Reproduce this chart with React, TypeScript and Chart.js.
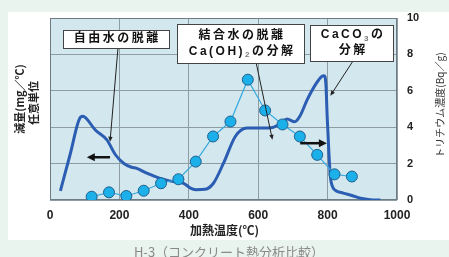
import React, { useEffect, useRef } from 'react';
import { Chart, registerables } from 'chart.js';

Chart.register(...registerables);

const W = 449;
const H = 257;

// X axis ticks (°C)
const xTickValues = [0, 200, 400, 600, 800, 1000];
// Right axis ticks (Bq/g)
const rightTickValues = [0, 2, 4, 6, 8, 10];

// Weight loss curve (arbitrary units, drawn on the 0-10 scale)
const lossTemps = [30, 58, 88, 96, 106, 130, 164, 188, 212, 235, 250, 279, 317, 356, 385, 405, 420, 447, 471, 500, 534, 568, 606, 644, 665, 683, 705, 720, 741, 765, 784, 790, 795, 799, 804, 808, 815, 825, 845, 870, 895, 923, 952];
const lossValues = [0.5, 2.5, 4.55, 4.6, 4.45, 3.86, 3.3, 2.5, 2.02, 1.8, 1.74, 1.47, 1.19, 1.01, 0.92, 0.65, 0.57, 0.59, 0.92, 2.02, 3.49, 3.95, 3.95, 4.0, 4.2, 4.45, 4.3, 4.6, 5.5, 6.34, 6.8, 6.83, 6.4, 4.5, 2.5, 1.3, 0.7, 0.5, 0.38, 0.25, 0.1, 0.02, 0];

// Tritium concentration (Bq/g)
const tritiumTemps = [120, 170, 220, 270, 320, 370, 420, 470, 520, 570, 620, 670, 720, 770, 820, 870];
const tritiumValues = [0.18, 0.42, 0.22, 0.51, 0.92, 1.14, 2.11, 3.49, 4.31, 6.61, 4.92, 4.15, 3.49, 2.48, 1.41, 1.29];

const xAxisTitle = '加熱温度(℃)';
const leftAxisTitle = ['減量(mg／℃)', '任意単位'];
const rightAxisTitle = 'トリチウム濃度(Bq／g)';
const caption = 'H-3（コンクリート熱分析比較）';

type Seg = { t: string; sub?: boolean };
type Callout = {
  cx: number; cy: number; w: number; h: number;
  lines: Seg[][];
  from: [number, number];
  to: [number, number];
};

// Callout boxes, anchored in data coordinates (°C, axis value)
const callouts: Callout[] = [
  { cx: 190, cy: 8.87, w: 106, h: 18, lines: [[{ t: '自由水の脱離' }]], from: [196, 8.37], to: [173, 3.2] },
  {
    cx: 550, cy: 8.62, w: 127, h: 39,
    lines: [[{ t: '結合水の脱離' }], [{ t: 'Ca(OH)' }, { t: '2', sub: true }, { t: 'の分解' }]],
    from: [594, 7.55], to: [641, 3.31],
  },
  {
    cx: 870, cy: 8.65, w: 83, h: 36,
    lines: [[{ t: 'CaCO' }, { t: '3', sub: true }, { t: 'の' }], [{ t: '分解' }]],
    from: [874, 7.66], to: [808, 5.73],
  },
];

// Thick direction arrows: [tailX, headX, y]
const dirArrows: [number, number, number][] = [
  [173, 106, 2.35],
  [721, 798, 3.12],
];

const FONT_LATIN = "'Liberation Sans', 'Noto Sans CJK JP', sans-serif";
const FONT_CJK = "'Noto Sans CJK JP', 'Liberation Sans', sans-serif";

function arrowHead(ctx: CanvasRenderingContext2D, x1: number, y1: number, x2: number, y2: number, len: number, half: number) {
  const a = Math.atan2(y2 - y1, x2 - x1);
  const bx = x2 - len * Math.cos(a);
  const by = y2 - len * Math.sin(a);
  ctx.beginPath();
  ctx.moveTo(x2, y2);
  ctx.lineTo(bx + half * Math.sin(a), by - half * Math.cos(a));
  ctx.lineTo(bx - half * Math.sin(a), by + half * Math.cos(a));
  ctx.closePath();
  ctx.fill();
}

function drawSegs(ctx: CanvasRenderingContext2D, segs: Seg[], cx: number, cy: number) {
  const main = `bold 12px ${FONT_LATIN}`;
  const sub = `bold 8px ${FONT_LATIN}`;
  const spacing = 2.5;
  const anyCtx = ctx as any;
  let total = 0;
  const widths: number[] = [];
  segs.forEach((s) => {
    ctx.font = s.sub ? sub : main;
    anyCtx.letterSpacing = `${spacing}px`;
    const w = ctx.measureText(s.t).width;
    widths.push(w);
    total += w;
  });
  total -= spacing;
  let x = cx - total / 2;
  ctx.textAlign = 'left';
  ctx.textBaseline = 'middle';
  segs.forEach((s, i) => {
    ctx.font = s.sub ? sub : main;
    anyCtx.letterSpacing = `${spacing}px`;
    ctx.fillStyle = s.sub ? '#777777' : '#111111';
    ctx.fillText(s.t, x, s.sub ? cy + 3.5 : cy);
    x += widths[i];
  });
  anyCtx.letterSpacing = '0px';
}

const decorPlugin = {
  id: 'decor',
  beforeDraw(chart: any) {
    const { ctx, chartArea: a } = chart;
    ctx.save();
    ctx.fillStyle = '#eaf4ee';
    ctx.fillRect(0, 0, W, H);
    ctx.fillStyle = '#ffffff';
    ctx.fillRect(8, 12, W - 8, 228);
    ctx.fillStyle = '#d3e7ee';
    ctx.fillRect(a.left, a.top, a.right - a.left, a.bottom - a.top);
    ctx.restore();
  },
  beforeDatasetsDraw(chart: any) {
    const { ctx, chartArea: a } = chart;
    ctx.save();
    ctx.strokeStyle = '#6d7c84';
    ctx.lineWidth = 1;
    ctx.strokeRect(a.left + 0.5, a.top + 0.5, a.right - a.left - 1, a.bottom - a.top - 1);
    ctx.restore();
  },
  afterDatasetsDraw(chart: any) {
    const { ctx } = chart;
    const xs = chart.scales.x;
    const ys = chart.scales.y;
    ctx.save();
    // direction arrows
    dirArrows.forEach(([tx, hx, yv]) => {
      const x1 = xs.getPixelForValue(tx);
      const x2 = xs.getPixelForValue(hx);
      const y = ys.getPixelForValue(yv);
      const dir = Math.sign(x2 - x1);
      ctx.strokeStyle = '#111111';
      ctx.fillStyle = '#111111';
      ctx.lineWidth = 2.5;
      ctx.beginPath();
      ctx.moveTo(x1, y);
      ctx.lineTo(x2 - dir * 6, y);
      ctx.stroke();
      arrowHead(ctx, x1, y, x2, y, 8, 4);
    });
    // callouts
    callouts.forEach((c) => {
      const fx = xs.getPixelForValue(c.from[0]);
      const fy = ys.getPixelForValue(c.from[1]);
      const tx = xs.getPixelForValue(c.to[0]);
      const ty = ys.getPixelForValue(c.to[1]);
      ctx.strokeStyle = '#222222';
      ctx.fillStyle = '#222222';
      ctx.lineWidth = 1;
      const a = Math.atan2(ty - fy, tx - fx);
      ctx.beginPath();
      ctx.moveTo(fx, fy);
      ctx.lineTo(tx - 3 * Math.cos(a), ty - 3 * Math.sin(a));
      ctx.stroke();
      arrowHead(ctx, fx, fy, tx, ty, 5, 2.2);

      const cx = xs.getPixelForValue(c.cx);
      const cy = ys.getPixelForValue(c.cy);
      const bx = Math.round(cx - c.w / 2) + 0.5;
      const by = Math.round(cy - c.h / 2) + 0.5;
      ctx.fillStyle = '#ffffff';
      ctx.fillRect(bx, by, c.w, c.h);
      ctx.strokeStyle = '#444444';
      ctx.lineWidth = 1;
      ctx.strokeRect(bx, by, c.w, c.h);
      const n = c.lines.length;
      const lh = n > 1 ? 16 : 0;
      c.lines.forEach((segs, i) => {
        const ly = cy + (i - (n - 1) / 2) * lh + 0.5;
        drawSegs(ctx, segs, cx, ly);
      });
    });
    ctx.restore();
  },
  afterDraw(chart: any) {
    const { ctx, chartArea: a } = chart;
    ctx.save();
    ctx.textAlign = 'center';
    ctx.textBaseline = 'middle';
    // left axis title
    ctx.fillStyle = '#222222';
    ctx.font = `bold 11px ${FONT_CJK}`;
    ctx.save();
    ctx.translate(20, 99);
    ctx.rotate(-Math.PI / 2);
    ctx.fillText(leftAxisTitle[0], 0, 0);
    ctx.restore();
    ctx.save();
    ctx.translate(34, 103);
    ctx.rotate(-Math.PI / 2);
    ctx.fillText(leftAxisTitle[1], 0, 0);
    ctx.restore();
    // right axis title
    ctx.font = `10px ${FONT_CJK}`;
    ctx.fillStyle = '#333333';
    ctx.save();
    ctx.translate(440.5, 105);
    ctx.rotate(-Math.PI / 2);
    ctx.fillText(rightAxisTitle, 0, 0);
    ctx.restore();
    // x axis title
    ctx.font = `bold 12px ${FONT_CJK}`;
    ctx.fillStyle = '#222222';
    ctx.fillText(xAxisTitle, (a.left + a.right) / 2 + 1, 230);
    // caption
    ctx.font = `13px ${FONT_CJK}`;
    ctx.fillStyle = '#8a8a8a';
    ctx.fillText(caption, 229, 252);
    ctx.restore();
  },
};

export default function App() {
  const ref = useRef<HTMLCanvasElement>(null);
  useEffect(() => {
    const canvas = ref.current;
    if (!canvas) return;
    const chart = new Chart(canvas, {
      type: 'line',
      data: {
        datasets: [
          {
            label: 'トリチウム濃度',
            data: tritiumTemps.map((x, i) => ({ x, y: tritiumValues[i] })),
            yAxisID: 'y1',
            borderColor: '#36aadf',
            borderWidth: 1.2,
            backgroundColor: '#1cb0ea',
            pointBackgroundColor: '#1cb0ea',
            pointBorderColor: '#1f5f8c',
            pointBorderWidth: 1,
            pointRadius: 5.5,
            tension: 0,
            fill: false,
          },
          {
            label: '減量',
            data: lossTemps.map((x, i) => ({ x, y: lossValues[i] })),
            yAxisID: 'y',
            borderColor: '#2b5db2',
            borderWidth: 3,
            pointRadius: 0,
            cubicInterpolationMode: 'monotone',
            fill: false,
          },
        ],
      },
      options: {
        responsive: false,
        devicePixelRatio: 1,
        animation: false,
        events: [],
        layout: { padding: { top: 18, left: 0, right: 0, bottom: 0 } },
        plugins: {
          legend: { display: false },
          tooltip: { enabled: false },
          title: { display: false },
        },
        scales: {
          x: {
            type: 'linear',
            min: 0,
            max: 1000,
            afterBuildTicks: (s: any) => {
              s.ticks = xTickValues.map((v) => ({ value: v }));
            },
            afterFit: (s: any) => {
              s.height = 57;
            },
            ticks: {
              autoSkip: false,
              maxRotation: 0,
              padding: 8,
              color: '#222222',
              font: { family: FONT_LATIN, size: 12, weight: 'bold' },
              callback: (v: any) => String(v),
            },
            grid: { color: '#8e9da4', lineWidth: 1, drawTicks: false },
            border: { display: false },
          },
          y: {
            type: 'linear',
            position: 'left',
            min: 0,
            max: 10,
            afterBuildTicks: (s: any) => {
              s.ticks = rightTickValues.map((v) => ({ value: v }));
            },
            afterFit: (s: any) => {
              s.width = 50;
            },
            ticks: { display: false },
            grid: { color: '#8e9da4', lineWidth: 1, drawTicks: false },
            border: { display: false },
          },
          y1: {
            type: 'linear',
            position: 'right',
            min: 0,
            max: 10,
            afterBuildTicks: (s: any) => {
              s.ticks = rightTickValues.map((v) => ({ value: v }));
            },
            afterFit: (s: any) => {
              s.width = 52;
            },
            ticks: {
              padding: 10,
              color: '#222222',
              font: { family: FONT_LATIN, size: 11, weight: 'bold' },
              callback: (v: any) => String(v),
            },
            grid: { display: false, drawTicks: false },
            border: { display: false },
          },
        },
      },
      plugins: [decorPlugin],
    } as any);
    return () => chart.destroy();
  }, []);
  return (
    <div style={{ position: 'fixed', left: 0, top: 0, width: W, height: H }}>
      <canvas ref={ref} width={W} height={H} style={{ display: 'block', width: W, height: H }} />
    </div>
  );
}
